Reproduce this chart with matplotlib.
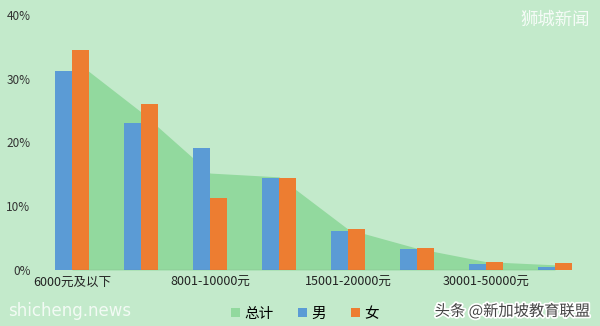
import matplotlib
matplotlib.use("Agg")
import matplotlib.pyplot as plt
import matplotlib.patheffects as pe
import numpy as np

plt.rcParams['font.family'] = ['Noto Sans CJK SC', 'DejaVu Sans']

# 月薪区间 (only every other label is shown on the axis)
categories = ['6000元及以下', '6001-8000元', '8001-10000元', '10001-15000元',
              '15001-20000元', '20001-30000元', '30001-50000元', '50000元以上']
total = [33.2, 24.8, 15.2, 14.6, 6.4, 3.4, 1.3, 0.8]
male = [31.2, 23.0, 19.2, 14.4, 6.1, 3.3, 1.0, 0.5]
female = [34.5, 26.0, 11.3, 14.5, 6.5, 3.4, 1.3, 1.1]
yticks = [0, 10, 20, 30, 40]

bg = '#c3eacb'
c_total = '#92d99e'
c_male = '#5b9bd5'
c_female = '#ed7d31'

fig = plt.figure(figsize=(6, 3.26), dpi=100, facecolor=bg)
ax = fig.add_axes([0.0625, 0.172, 0.92, 0.782])
ax.set_facecolor(bg)

x = np.arange(len(categories))
w = 0.25
ax.fill_between(x, total, 0, color=c_total, lw=0, label='总计', zorder=1)
ax.bar(x - w / 2, male, w, color=c_male, label='男', zorder=2)
ax.bar(x + w / 2, female, w, color=c_female, label='女', zorder=2)
ax.plot([x[0], x[-1]], [0, 0], color='#666666', lw=0.8, zorder=3)

ax.set_xlim(-0.5, len(categories) - 0.5)
ax.set_ylim(0, 40)
ax.set_yticks(yticks)
ax.set_yticklabels([f'{v}%' for v in yticks], fontsize=8.5, color='#333333')
ax.set_xticks(x[::2])
ax.set_xticklabels(categories[::2], fontsize=9, color='#222222')
ax.tick_params(length=0, pad=4)
ax.tick_params(axis='y', pad=5)
for s in ax.spines.values():
    s.set_visible(False)

handles, labels = ax.get_legend_handles_labels()
fig.legend(handles, labels, loc='center', bbox_to_anchor=(0.508, 0.037), ncol=3,
           frameon=False, fontsize=10.5, handlelength=0.6, handleheight=0.6,
           handletextpad=0.3, columnspacing=1.7)

# watermarks
fig.text(0.983, 0.94, '狮城新闻', ha='right', va='center', fontsize=12.5,
         color='white', alpha=0.85)
fig.text(0.013, 0.045, 'shicheng.news', ha='left', va='center', fontsize=12,
         color='white', alpha=0.8, family='DejaVu Sans')
fig.text(0.983, 0.045, '头条 @新加坡教育联盟', ha='right', va='center', fontsize=11,
         color='#444444',
         path_effects=[pe.withStroke(linewidth=2.5, foreground='white')])

fig.savefig('out.png', dpi=100, facecolor=bg)
